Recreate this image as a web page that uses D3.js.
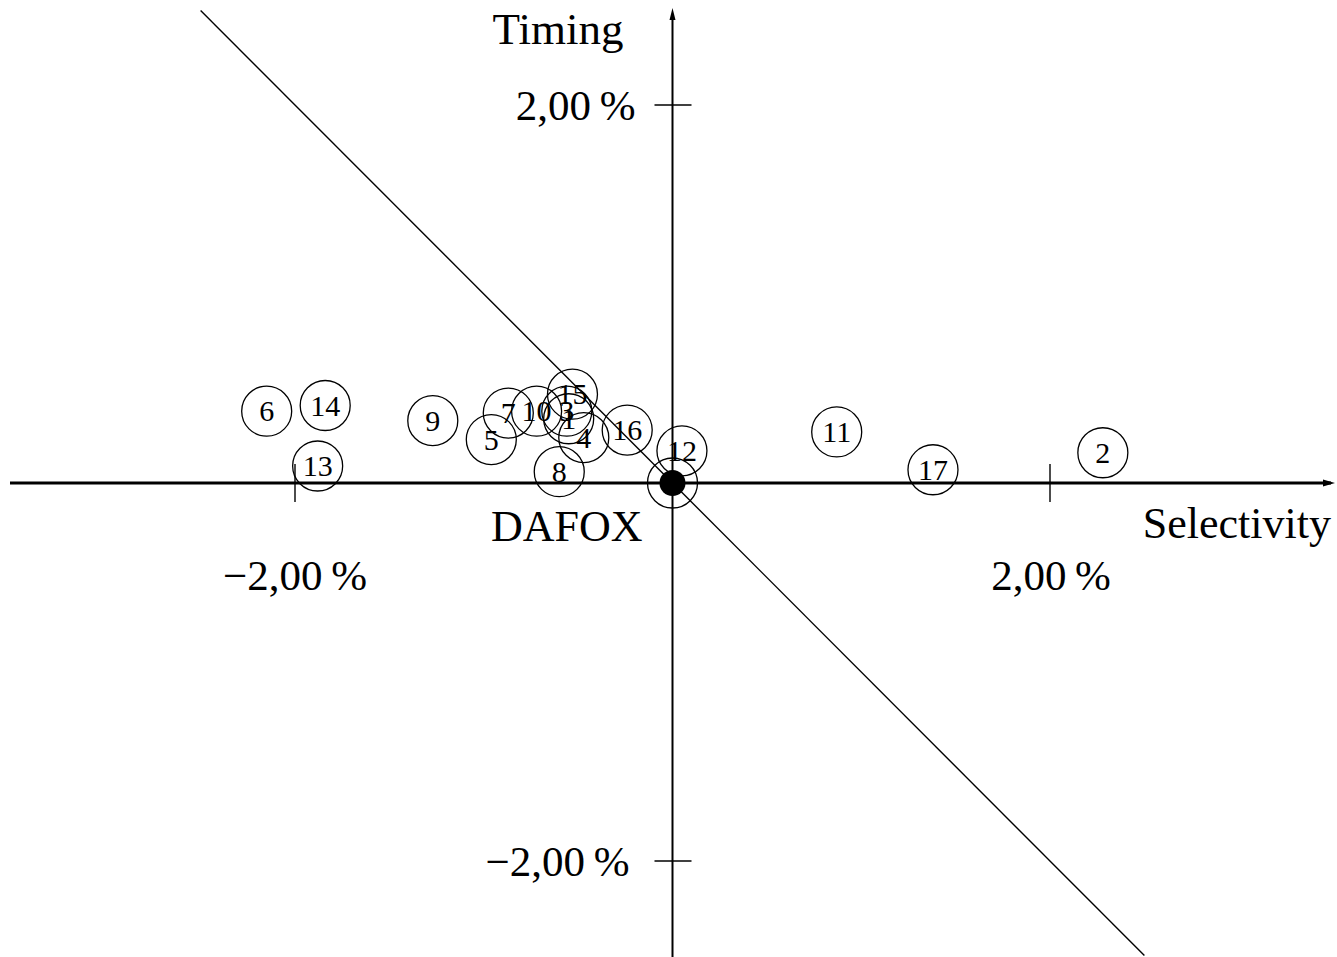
<!DOCTYPE html>
<html>
<head>
<meta charset="utf-8">
<script src="https://cdn.jsdelivr.net/npm/d3@7"></script>
<style>
  html, body { margin: 0; padding: 0; background: #fff; }
  svg { display: block; }
  text { font-family: "Liberation Serif", "DejaVu Serif", serif; fill: #000; }
</style>
</head>
<body>
<svg id="chart" width="1337" height="957"></svg>
<script>
// Fund performance decomposition: selectivity vs. timing (in %)
const funds      = ["1", "2", "3", "4", "5", "6", "7", "8", "9", "10", "11", "12", "13", "14", "15", "16", "17"];
const selectivity = [-0.55, 2.28, -0.56, -0.47, -0.96, -2.15, -0.87, -0.60, -1.27, -0.72, 0.87, 0.05, -1.88, -1.84, -0.53, -0.24, 1.38];
const timing      = [0.34, 0.16, 0.38, 0.24, 0.23, 0.38, 0.37, 0.06, 0.33, 0.38, 0.27, 0.17, 0.09, 0.41, 0.47, 0.28, 0.07];

// Benchmark portfolio
const benchmarkName = "DAFOX";
const benchmark = [0, 0];

// Iso-performance line (selectivity + timing = 0)
const isoLine = [[-2.5, 2.5], [2.5, -2.5]];

const xTicks = [-2, 2];
const yTicks = [-2, 2];
const xTickLabels = ["\u22122,00\u2009%", "2,00\u2009%"];
const yTickLabels = ["\u22122,00\u2009%", "2,00\u2009%"];

const svg = d3.select("#chart");
const W = 1337, H = 957;

const x = d3.scaleLinear().domain([-2, 2]).range([295, 1050]);
const y = d3.scaleLinear().domain([-2, 2]).range([861, 105]);
const x0 = x(0), y0 = y(0);

// Iso-performance diagonal
svg.append("path")
  .attr("d", d3.line().x(d => x(d[0])).y(d => y(d[1]))(isoLine))
  .attr("fill", "none").attr("stroke", "#000").attr("stroke-width", 1.4);

// Axes
svg.append("line").attr("x1", 10).attr("x2", W - 6).attr("y1", y0).attr("y2", y0)
  .attr("stroke", "#000").attr("stroke-width", 3);
svg.append("line").attr("x1", x0).attr("x2", x0).attr("y1", H).attr("y2", 14)
  .attr("stroke", "#000").attr("stroke-width", 2);

// Arrowheads
svg.append("path")
  .attr("d", `M${W - 2},${y0} L${W - 14},${y0 - 3.5} L${W - 14},${y0 + 3.5} Z`)
  .attr("fill", "#000");
svg.append("path")
  .attr("d", `M${x0},8 L${x0 - 3},20 L${x0 + 3},20 Z`)
  .attr("fill", "#000");

// Tick marks
svg.selectAll(".xtick").data(xTicks).enter().append("line")
  .attr("x1", d => x(d)).attr("x2", d => x(d))
  .attr("y1", y0 - 19).attr("y2", y0 + 19)
  .attr("stroke", "#000").attr("stroke-width", 1.4);
svg.selectAll(".ytick").data(yTicks).enter().append("line")
  .attr("x1", x0 - 18).attr("x2", x0 + 19)
  .attr("y1", d => y(d)).attr("y2", d => y(d))
  .attr("stroke", "#000").attr("stroke-width", 1.4);

// Tick labels
svg.selectAll(".xlab").data(xTicks).enter().append("text")
  .attr("x", (d, i) => i === 0 ? x(d) : x(d) + 1).attr("y", y0 + 107)
  .attr("text-anchor", "middle")
  .attr("font-size", 43)
  .text((d, i) => xTickLabels[i]);
svg.selectAll(".ylab").data(yTicks).enter().append("text")
  .attr("x", (d, i) => i === 0 ? x0 - 43 : x0 - 37).attr("y", d => y(d) + 15)
  .attr("text-anchor", "end")
  .attr("font-size", 43)
  .text((d, i) => yTickLabels[i]);

// Axis titles
svg.append("text").attr("x", 1331).attr("y", y0 + 55)
  .attr("text-anchor", "end").attr("font-size", 44).text("Selectivity");
svg.append("text").attr("x", 558).attr("y", 44)
  .attr("text-anchor", "middle").attr("font-size", 45).text("Timing");

// Fund markers
const g = svg.append("g");
const pts = funds.map((f, i) => ({ name: f, s: selectivity[i], t: timing[i] }));
g.selectAll("circle.fund").data(pts).enter().append("circle")
  .attr("class", "fund")
  .attr("cx", d => x(d.s)).attr("cy", d => y(d.t)).attr("r", 25)
  .attr("fill", "none").attr("stroke", "#000").attr("stroke-width", 1.3);
g.selectAll("text.fund").data(pts).enter().append("text")
  .attr("class", "fund")
  .attr("x", d => x(d.s)).attr("y", d => y(d.t) + 10)
  .attr("text-anchor", "middle").attr("font-size", 30)
  .text(d => d.name);

// Benchmark marker
svg.append("circle").attr("cx", x(benchmark[0])).attr("cy", y(benchmark[1])).attr("r", 25)
  .attr("fill", "none").attr("stroke", "#000").attr("stroke-width", 1.3);
svg.append("circle").attr("cx", x(benchmark[0])).attr("cy", y(benchmark[1])).attr("r", 13)
  .attr("fill", "#000");
svg.append("text").attr("x", x(benchmark[0]) - 30).attr("y", y(benchmark[1]) + 58)
  .attr("text-anchor", "end").attr("font-size", 44).text(benchmarkName);
</script>
</body>
</html>
